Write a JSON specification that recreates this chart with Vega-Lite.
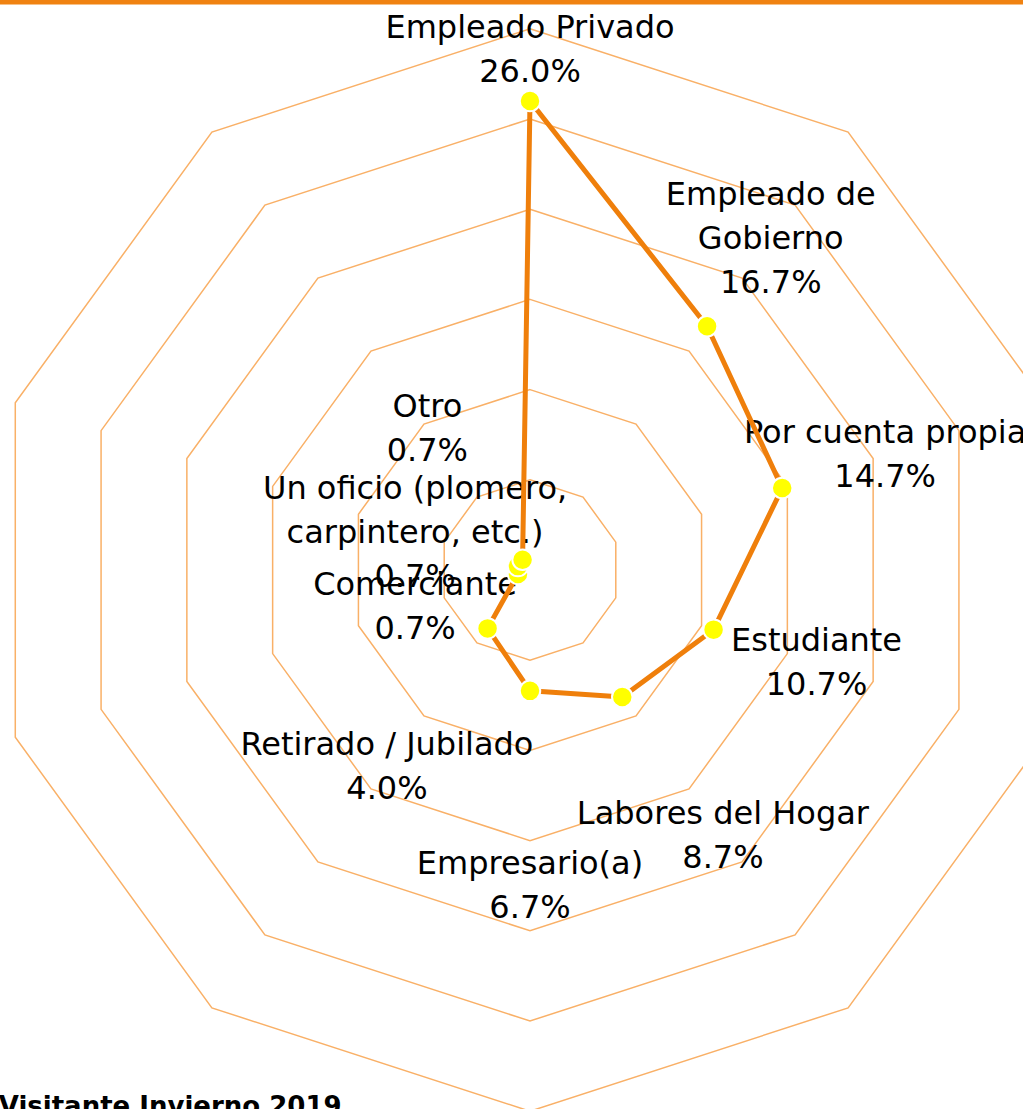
{
  "$schema": "https://vega.github.io/schema/vega-lite/v6.json",
  "width": 1023,
  "height": 1109,
  "autosize": "none",
  "padding": 0,
  "background": "white",
  "config": {"view": {"stroke": null}},
  "datasets": {
    "ocupacion": [
      {"categoria": "Empleado Privado", "etiqueta": "Empleado Privado", "valor": 26.0},
      {"categoria": "Empleado de Gobierno", "etiqueta": "Empleado de\nGobierno", "valor": 16.7},
      {"categoria": "Por cuenta propia", "etiqueta": "Por cuenta propia", "valor": 14.7},
      {"categoria": "Estudiante", "etiqueta": "Estudiante", "valor": 10.7},
      {"categoria": "Labores del Hogar", "etiqueta": "Labores del Hogar", "valor": 8.7},
      {"categoria": "Empresario(a)", "etiqueta": "Empresario(a)", "valor": 6.7},
      {"categoria": "Retirado / Jubilado", "etiqueta": "Retirado / Jubilado", "valor": 4.0},
      {"categoria": "Comerciante", "etiqueta": "Comerciante", "valor": 0.7},
      {"categoria": "Un oficio (plomero, carpintero, etc.)", "etiqueta": "Un oficio (plomero,\ncarpintero, etc.)", "valor": 0.7},
      {"categoria": "Otro", "etiqueta": "Otro", "valor": 0.7}
    ],
    "anillos": [
      {"anillo": 5, "vertice": [0, 1, 2, 3, 4, 5, 6, 7, 8, 9]},
      {"anillo": 10, "vertice": [0, 1, 2, 3, 4, 5, 6, 7, 8, 9]},
      {"anillo": 15, "vertice": [0, 1, 2, 3, 4, 5, 6, 7, 8, 9]},
      {"anillo": 20, "vertice": [0, 1, 2, 3, 4, 5, 6, 7, 8, 9]},
      {"anillo": 25, "vertice": [0, 1, 2, 3, 4, 5, 6, 7, 8, 9]},
      {"anillo": 30, "vertice": [0, 1, 2, 3, 4, 5, 6, 7, 8, 9]}
    ],
    "titulo": [{"texto": "Visitante Invierno 2019"}]
  },
  "layer": [
    {
      "data": {"name": "anillos"},
      "transform": [
        {"flatten": ["vertice"]},
        {"calculate": "datum.anillo * sin(datum.vertice * PI / 5)", "as": "gx"},
        {"calculate": "datum.anillo * cos(datum.vertice * PI / 5)", "as": "gy"}
      ],
      "mark": {"type": "line", "interpolate": "linear-closed", "color": "#F9B067", "strokeWidth": 1.5, "clip": true},
      "encoding": {
        "x": {"field": "gx", "type": "quantitative", "axis": null, "scale": {"domain": [-29.379, 27.328], "nice": false, "zero": false}},
        "y": {"field": "gy", "type": "quantitative", "axis": null, "scale": {"domain": [-29.878, 31.596], "nice": false, "zero": false}},
        "detail": {"field": "anillo", "type": "nominal"},
        "order": {"field": "vertice", "type": "quantitative"}
      }
    },
    {
      "data": {"name": "ocupacion"},
      "transform": [
        {"window": [{"op": "row_number", "as": "idx"}]},
        {"calculate": "(datum.idx - 1) * PI / 5", "as": "th"},
        {"calculate": "datum.etiqueta + '\\n' + format(datum.valor, '.1f') + '%'", "as": "texto"},
        {"calculate": "length(split(datum.texto, '\\n'))", "as": "nl"},
        {"calculate": "min(datum.valor + 6 + 7 * max(0, -cos(datum.th) - 0.31) + 17 * max(0, max(0, cos(datum.th)) * max(0, -sin(datum.th)) - 0.3), 28.8)", "as": "lr"},
        {"calculate": "datum.lr * sin(datum.th)", "as": "lx"},
        {"calculate": "datum.lr * cos(datum.th) + (datum.nl - 1) * 22 / 18.04", "as": "ly"}
      ],
      "mark": {"type": "text", "font": "DejaVu Sans", "fontSize": 32, "color": "#000000", "align": "center", "baseline": "middle", "lineBreak": "\n", "lineHeight": 44},
      "encoding": {
        "x": {"field": "lx", "type": "quantitative", "axis": null, "scale": {"domain": [-29.379, 27.328], "nice": false, "zero": false}},
        "y": {"field": "ly", "type": "quantitative", "axis": null, "scale": {"domain": [-29.878, 31.596], "nice": false, "zero": false}},
        "text": {"field": "texto", "type": "nominal"}
      }
    },
    {
      "data": {"name": "ocupacion"},
      "transform": [
        {"window": [{"op": "row_number", "as": "idx"}]},
        {"calculate": "(datum.idx - 1) * PI / 5", "as": "th"},
        {"calculate": "datum.valor * sin(datum.th)", "as": "px"},
        {"calculate": "datum.valor * cos(datum.th)", "as": "py"}
      ],
      "mark": {"type": "line", "interpolate": "linear-closed", "color": "#EF7F0B", "strokeWidth": 5, "strokeJoin": "round"},
      "encoding": {
        "x": {"field": "px", "type": "quantitative", "axis": null, "scale": {"domain": [-29.379, 27.328], "nice": false, "zero": false}},
        "y": {"field": "py", "type": "quantitative", "axis": null, "scale": {"domain": [-29.878, 31.596], "nice": false, "zero": false}},
        "order": {"field": "idx", "type": "quantitative"}
      }
    },
    {
      "data": {"name": "ocupacion"},
      "transform": [
        {"window": [{"op": "row_number", "as": "idx"}]},
        {"calculate": "(datum.idx - 1) * PI / 5", "as": "th"},
        {"calculate": "datum.valor * sin(datum.th)", "as": "px"},
        {"calculate": "datum.valor * cos(datum.th)", "as": "py"}
      ],
      "mark": {"type": "point", "shape": "circle", "filled": true, "size": 420, "fill": "#FFFF00", "stroke": "#FFFFFF", "strokeWidth": 2, "opacity": 1},
      "encoding": {
        "x": {"field": "px", "type": "quantitative", "axis": null, "scale": {"domain": [-29.379, 27.328], "nice": false, "zero": false}},
        "y": {"field": "py", "type": "quantitative", "axis": null, "scale": {"domain": [-29.878, 31.596], "nice": false, "zero": false}}
      }
    },
    {
      "data": {"name": "titulo"},
      "mark": {"type": "rule", "color": "#F08211", "strokeWidth": 9},
      "encoding": {
        "y": {"datum": 31.596, "type": "quantitative", "axis": null, "scale": {"domain": [-29.878, 31.596], "nice": false, "zero": false}}
      }
    },
    {
      "data": {"name": "titulo"},
      "mark": {"type": "text", "font": "DejaVu Sans", "fontSize": 26, "fontWeight": "bold", "color": "#000000", "align": "left", "baseline": "alphabetic"},
      "encoding": {
        "x": {"datum": -29.45, "type": "quantitative", "axis": null, "scale": {"domain": [-29.379, 27.328], "nice": false, "zero": false}},
        "y": {"datum": -30.2, "type": "quantitative", "axis": null, "scale": {"domain": [-29.878, 31.596], "nice": false, "zero": false}},
        "text": {"field": "texto", "type": "nominal"}
      }
    }
  ]
}
